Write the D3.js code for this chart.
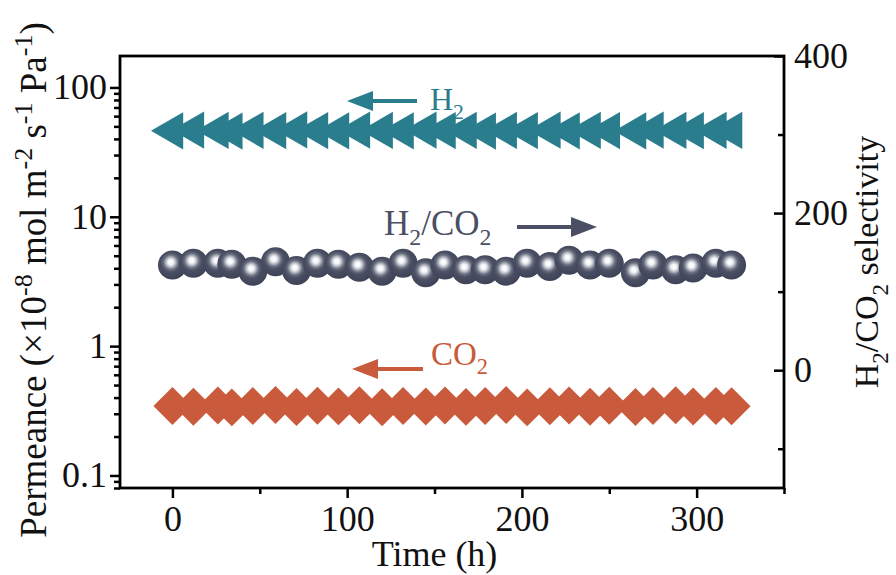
<!DOCTYPE html>
<html>
<head>
<meta charset="utf-8">
<script src="https://cdn.jsdelivr.net/npm/d3@7"></script>
<style>
  body { margin: 0; background: #fff; }
  svg, svg text { font-family: "Liberation Serif", "Times New Roman", serif; }
  .tick text { font-size: 36px; fill: #111; }
  .tick line { stroke: #000; stroke-width: 2.5; }
</style>
</head>
<body>
<svg width="896" height="575"></svg>
<script>
// time of each measurement (h)
const times = [0, 12, 26, 34, 46, 59, 71, 83, 95, 107, 120, 132, 145, 156, 168, 179, 191, 203, 216, 227, 239, 250, 265, 275, 288, 298, 311, 320]
// permeance, x10^-8 mol m-2 s-1 Pa-1
const h2Perm = [46.2, 46.8, 46.5, 46.0, 46.6, 46.3, 46.9, 46.4, 46.1, 46.7, 46.5, 46.2, 46.8, 46.4, 46.6, 46.0, 46.5, 46.3, 46.7, 46.2, 46.6, 46.4, 46.1, 46.8, 46.5, 46.3, 46.6, 46.5]
const co2Perm = [0.345, 0.340, 0.348, 0.336, 0.344, 0.350, 0.338, 0.346, 0.342, 0.349, 0.337, 0.345, 0.341, 0.347, 0.339, 0.344, 0.350, 0.336, 0.343, 0.348, 0.340, 0.346, 0.338, 0.344, 0.349, 0.341, 0.345, 0.343]
// H2/CO2 selectivity
const selectivity = [134, 136, 136, 135, 126, 138, 127, 136, 135, 131, 126, 136, 124, 134, 128, 128, 126, 136, 132, 140, 134, 136, 124, 134, 128, 130, 136, 134]

const xTicks = [0, 100, 200, 300]
const xMinor = [50, 150, 250, 350]
const leftTicks = [0.1, 1, 10, 100]
const rightTicks = [0, 200, 400]
const rightMinor = [-100, 100, 300]

const teal = '#2a7d8d', slate = '#4a4f63', rust = '#c95a3b'
const plot = {left: 120, right: 784, top: 56, bottom: 488}

const svg = d3.select('svg')

const x = d3.scaleLinear().domain([-30, 350]).range([plot.left, plot.right])
const yL = d3.scaleLog().domain([0.08, 175]).range([plot.bottom, plot.top])
const yR = d3.scaleLinear().domain([-150, 400]).range([plot.bottom, plot.top])

// gradient for the shaded balls
const grad = svg.append('defs').append('radialGradient')
    .attr('id', 'ball').attr('cx', '45%').attr('cy', '42%').attr('r', '55%')
    .attr('fx', '44%').attr('fy', '40%')
grad.selectAll('stop')
    .data([[0, '#ffffff'], [0.16, '#f4f5f7'], [0.3, '#babdc7'], [0.46, '#6a6f80'], [0.62, slate], [1, '#404458']])
    .enter().append('stop')
    .attr('offset', d => d[0]).attr('stop-color', d => d[1])

// axes
svg.append('g')
    .attr('transform', `translate(0,${plot.bottom})`)
    .call(d3.axisBottom(x).tickValues(xTicks).tickSize(10).tickPadding(7))
svg.append('g')
    .attr('transform', `translate(0,${plot.bottom})`)
    .call(d3.axisBottom(x).tickValues(xMinor).tickSize(6).tickFormat(''))

svg.append('g')
    .attr('transform', `translate(${plot.left},0)`)
    .call(d3.axisLeft(yL).tickValues(leftTicks).tickSize(10).tickPadding(3).tickFormat(d3.format('~g')))
svg.append('g')
    .attr('transform', `translate(${plot.left},0)`)
    .call(d3.axisLeft(yL).tickValues(yL.ticks().filter(v => !leftTicks.includes(v))).tickSize(6).tickFormat(''))

svg.append('g')
    .attr('transform', `translate(${plot.right},0)`)
    .call(d3.axisRight(yR).tickValues(rightTicks).tickSize(-10).tickPadding(10))
svg.append('g')
    .attr('transform', `translate(${plot.right},0)`)
    .call(d3.axisRight(yR).tickValues(rightMinor).tickSize(-6).tickFormat(''))

svg.selectAll('.domain').remove()
svg.selectAll('g').attr('font-family', null).attr('font-size', null)

// frame
svg.append('rect')
    .attr('x', plot.left).attr('y', plot.top)
    .attr('width', plot.right - plot.left).attr('height', plot.bottom - plot.top)
    .attr('fill', 'none').attr('stroke', '#000').attr('stroke-width', 2.8)

// H2 triangles pointing left
const tri = d3.symbol().type(d3.symbolTriangle).size(600)
svg.append('g').selectAll('path')
    .data(times)
    .enter().append('path')
    .attr('d', tri)
    .attr('fill', teal)
    .attr('transform', (t, i) => `translate(${x(t)},${yL(h2Perm[i])}) rotate(-90)`)

// CO2 diamonds
const dia = d3.symbol().type(d3.symbolSquare).size(720)
svg.append('g').selectAll('path')
    .data(times)
    .enter().append('path')
    .attr('d', dia)
    .attr('fill', rust)
    .attr('transform', (t, i) => `translate(${x(t)},${yL(co2Perm[i])}) rotate(45)`)

// selectivity balls
svg.append('g').selectAll('circle')
    .data(times)
    .enter().append('circle')
    .attr('cx', t => x(t))
    .attr('cy', (t, i) => yR(selectivity[i]))
    .attr('r', 14.5)
    .attr('fill', 'url(#ball)')

// axis titles
svg.append('text')
    .attr('x', x(150)).attr('y', 566)
    .attr('text-anchor', 'middle').attr('font-size', 36).attr('fill', '#111')
    .text('Time (h)')

const lt = svg.append('text')
    .attr('transform', 'translate(46,280) rotate(-90)')
    .attr('text-anchor', 'middle').attr('font-size', 37).attr('fill', '#111')
const ltParts = [['Permeance (\u00d710', 0], ['-8', 1], [' mol m', 0], ['-2', 1], [' s', 0], ['-1', 1], [' Pa', 0], ['-1', 1], [')', 0]]
ltParts.forEach((p, i) => {
    const prev = i > 0 ? ltParts[i - 1][1] : 0
    lt.append('tspan')
        .attr('font-size', p[1] ? 26 : null)
        .attr('dy', p[1] === prev ? 0 : (p[1] ? -14 : 14))
        .text(p[0])
})

function chem(g, parts, size) {
    let prev = 0
    parts.forEach(p => {
        g.append('tspan')
            .attr('font-size', p[1] ? size * 0.68 : null)
            .attr('dy', p[1] === prev ? 0 : (p[1] ? size * 0.28 : -size * 0.28))
            .text(p[0])
        prev = p[1]
    })
}

const rt = svg.append('text')
    .attr('transform', 'translate(878,262) rotate(-90)')
    .attr('text-anchor', 'middle').attr('font-size', 34).attr('fill', '#111')
chem(rt, [['H', 0], ['2', 1], ['/CO', 0], ['2', 1], [' selectivity', 0]], 34)

// annotations with arrows
const notes = [
    {parts: [['H', 0], ['2', 1]], size: 32, color: teal, tx: 430, ty: 110, ax1: 417, ax2: 347, ay: 101},
    {parts: [['H', 0], ['2', 1], ['/CO', 0], ['2', 1]], size: 35, color: slate, tx: 384, ty: 235, ax1: 517, ax2: 597, ay: 227},
    {parts: [['CO', 0], ['2', 1]], size: 33, color: rust, tx: 431, ty: 365, ax1: 423, ax2: 352, ay: 369}
]
notes.forEach(n => {
    const t = svg.append('text').attr('x', n.tx).attr('y', n.ty)
        .attr('font-size', n.size).attr('fill', n.color)
    chem(t, n.parts, n.size)
    const dir = Math.sign(n.ax2 - n.ax1)
    svg.append('line')
        .attr('x1', n.ax1).attr('x2', n.ax2 - dir * 18)
        .attr('y1', n.ay).attr('y2', n.ay)
        .attr('stroke', n.color).attr('stroke-width', 4)
    svg.append('path')
        .attr('d', `M${n.ax2},${n.ay} L${n.ax2 - dir * 26},${n.ay - 10} L${n.ax2 - dir * 26},${n.ay + 10} Z`)
        .attr('fill', n.color)
})
</script>
</body>
</html>
